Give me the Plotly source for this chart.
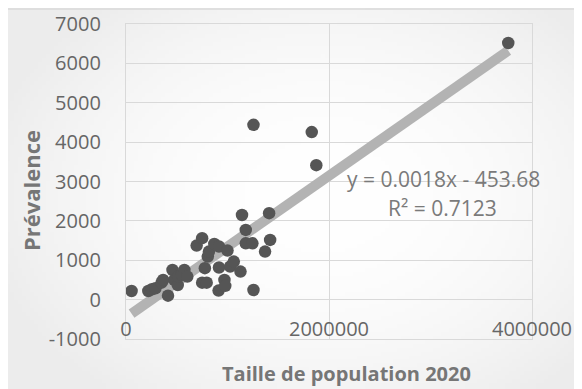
import base64, struct, zlib
import numpy as np
import plotly.graph_objects as go

# ---- data ----
population = [55000, 220000, 256000, 290000, 350000, 366000, 414000, 458000, 476000, 510000,
              513000, 550000, 575000, 604000, 696000, 750000, 777000, 750000, 795000, 806000,
              817000, 870000, 916000, 916000, 912000, 970000, 978000, 1000000, 1026000, 1062000,
              1128000, 1143000, 1180000, 1180000, 1245000, 1256000, 1370000, 1410000, 1420000,
              1256000, 1830000, 1875000, 3766000]
prevalence = [220, 220, 263, 290, 430, 500, 100, 755, 500, 370,
              585, 630, 755, 585, 1373, 1560, 800, 430, 430, 1093,
              1220, 1415, 1350, 815, 230, 500, 350, 1245, 840, 966,
              712, 2150, 1770, 1430, 1430, 245, 1220, 2195, 1517,
              4440, 4254, 3415, 6517]
slope = 0.0018
intercept = -453.68
r_squared = 0.7123
x_ticks = [0, 2000000, 4000000]
y_ticks = [-1000, 0, 1000, 2000, 3000, 4000, 5000, 6000, 7000]

# ---- background radial gradient image ----
W, H = 146, 98
yy, xx = np.mgrid[0:H, 0:W]
cx, cy = W * 0.55, H * 0.5
r2 = ((xx - cx) / (W * 0.55)) ** 2 + ((yy - cy) / (H * 0.6)) ** 2
val = np.clip(255 - 16 * r2, 236, 255).astype(np.uint8)
raw = b"".join(b"\x00" + bytes(np.repeat(val[i], 3)) for i in range(H))
def chunk(t, d):
    c = struct.pack(">I", len(d)) + t + d
    return c + struct.pack(">I", zlib.crc32(t + d) & 0xffffffff)
png = b"\x89PNG\r\n\x1a\n" + chunk(b"IHDR", struct.pack(">IIBBBBB", W, H, 8, 2, 0, 0, 0)) \
      + chunk(b"IDAT", zlib.compress(raw, 9)) + chunk(b"IEND", b"")
bg_src = "data:image/png;base64," + base64.b64encode(png).decode()

FONT = "Open Sans"
OFF = 8  # page body margin offset
FW, FH = 582, 389
L, T = 126 - OFF, 24 - OFF
PW, PH = 406, 315
R, B = FW - L - PW, FH - T - PH

xmin, xmax = min(population), max(population)
fig = go.Figure()
fig.add_trace(go.Scatter(x=[xmin, xmax], y=[slope * xmin + intercept, slope * xmax + intercept],
                         mode="lines", line=dict(color="#b3b3b3", width=10),
                         hoverinfo="skip", showlegend=False))
fig.add_trace(go.Scatter(x=population, y=prevalence, mode="markers",
                         marker=dict(color="#555555", size=12.5, line=dict(width=0)),
                         showlegend=False))

axis_common = dict(showgrid=True, gridcolor="#d9d9d9", gridwidth=1.3, zeroline=False,
                   showline=True, linecolor="#d9d9d9", linewidth=1.3, mirror=True,
                   automargin=False,
                   tickfont=dict(family=FONT, size=20, color="#666666"))
fig.update_xaxes(range=[0, 4000000], tickvals=x_ticks, ticktext=[str(v) for v in x_ticks],
                 ticks="", ticklabelposition="inside", ticklabeloverflow="allow", **axis_common)
fig.update_yaxes(range=[-1000, 7000], tickvals=y_ticks, ticktext=[str(v) for v in y_ticks],
                 ticks="", ticklabelstandoff=20, **axis_common)

# reference-picture pixel -> paper coordinate
def px_x(p):
    return (p - OFF - L) / PW
def px_y(p):
    return (T + PH - (p - OFF)) / PH

fig.update_layout(
    width=FW, height=FH,
    margin=dict(l=L, r=R, t=T, b=B, autoexpand=False),
    paper_bgcolor="white", plot_bgcolor="rgba(0,0,0,0)",
    images=[dict(source=bg_src, xref="paper", yref="paper", x=px_x(0), y=px_y(0),
                 sizex=582 / PW, sizey=389 / PH, xanchor="left", yanchor="top",
                 sizing="stretch", layer="below")],
    shapes=[dict(type="rect", xref="paper", yref="paper", x0=px_x(7), x1=px_x(620),
                 y0=px_y(420), y1=px_y(9), line=dict(color="#d9d9d9", width=1.5),
                 fillcolor="rgba(0,0,0,0)", layer="below")],
    annotations=[
        dict(text="<b>Prévalence</b>", xref="paper", yref="paper", x=px_x(31), y=px_y(191),
             textangle=-90, showarrow=False, xanchor="center", yanchor="middle",
             font=dict(family=FONT, size=22, color="#767676")),
        dict(text="<b>Taille de population 2020</b>", xref="paper", yref="paper",
             x=px_x(346), y=px_y(373), showarrow=False, xanchor="center", yanchor="middle",
             font=dict(family=FONT, size=20, color="#767676")),
        dict(text=f"y = {slope}x - {abs(intercept)}", xref="paper", yref="paper",
             x=px_x(443), y=px_y(179), showarrow=False, xanchor="center", yanchor="middle",
             font=dict(family=FONT, size=21, color="#7a7a7a")),
        dict(text=f"R² = {r_squared}", xref="paper", yref="paper",
             x=px_x(442), y=px_y(208), showarrow=False, xanchor="center", yanchor="middle",
             font=dict(family=FONT, size=21, color="#7a7a7a")),
    ],
)
fig.write_html("out.html")
